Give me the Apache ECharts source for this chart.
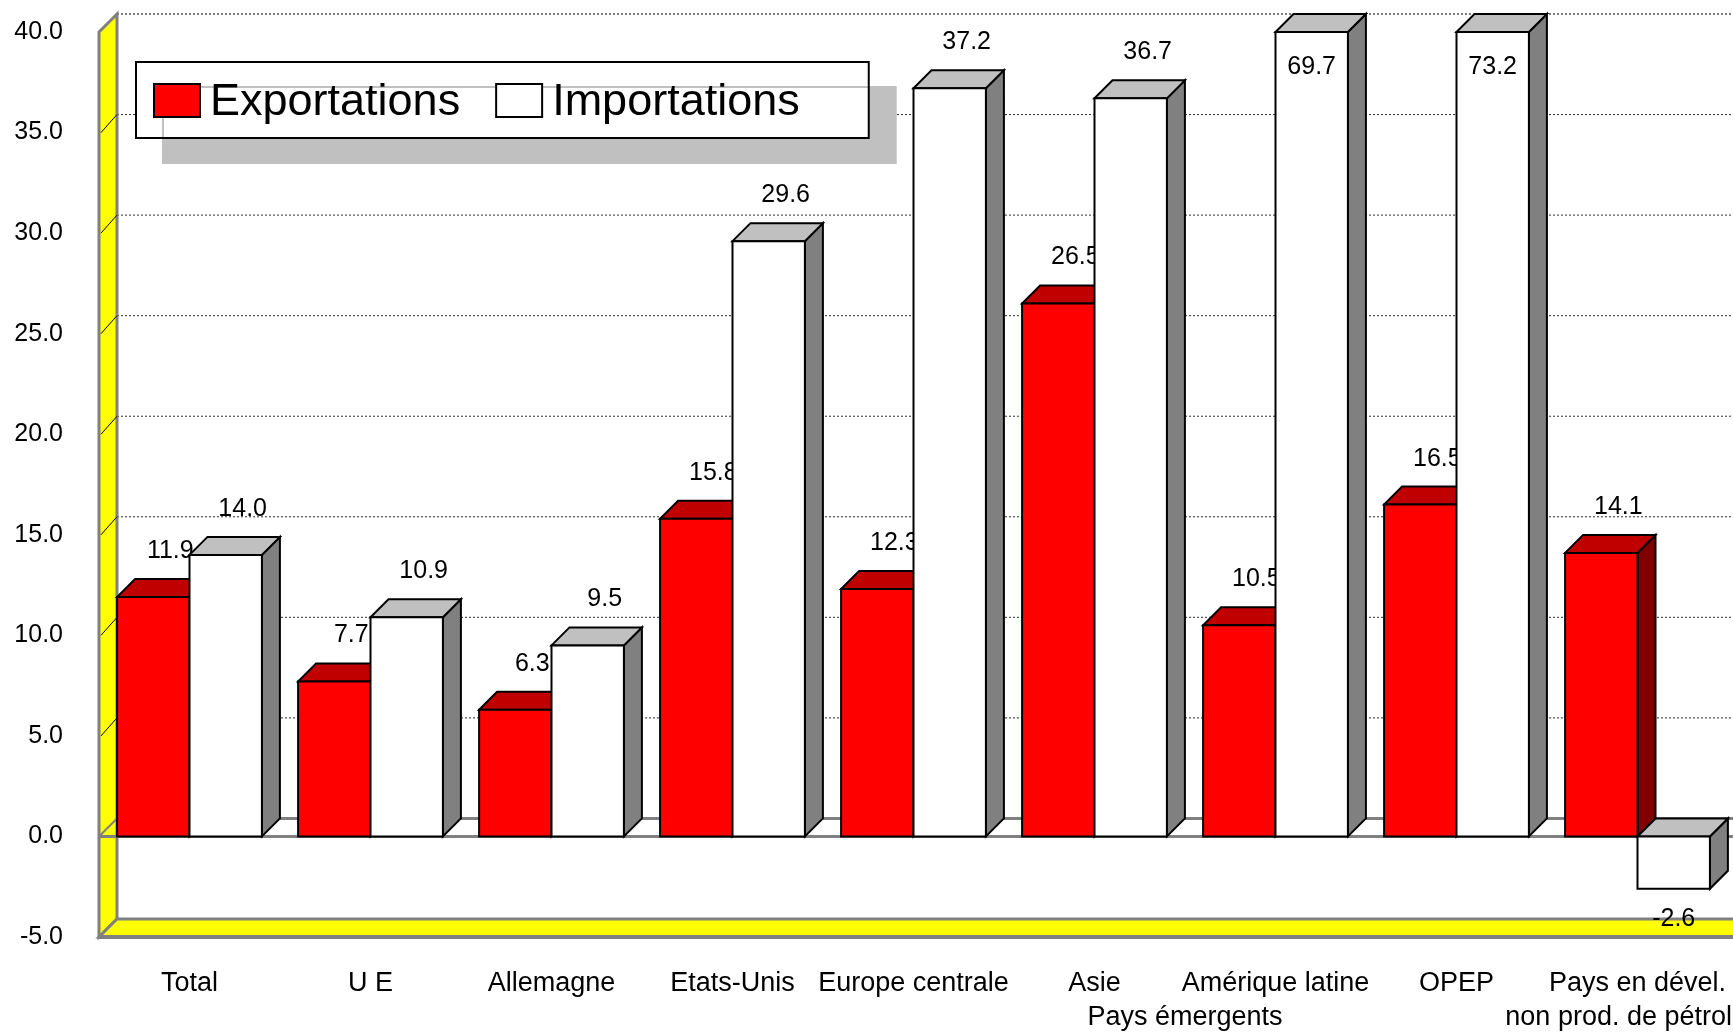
<!DOCTYPE html>
<html>
<head>
<meta charset="utf-8">
<script src="https://cdn.jsdelivr.net/npm/echarts@6/dist/echarts.min.js"></script>
<style>
html,body{margin:0;padding:0;background:#fff;}
#chart{width:1733px;height:1035px;}
</style>
</head>
<body>
<div id="chart"></div>
<script>
// ---------- data ----------
const categories = ['Total', 'U E', 'Allemagne', 'Etats-Unis', 'Europe centrale', 'Asie', 'Amérique latine', 'OPEP', 'Pays en dével.'];
const exportations = [11.9, 7.7, 6.3, 15.8, 12.3, 26.5, 10.5, 16.5, 14.1];
const importations = [14.0, 10.9, 9.5, 29.6, 37.2, 36.7, 69.7, 73.2, -2.6];
const seriesNames = ['Exportations', 'Importations'];
const yMin = -5;
const yMax = 40;
const yStep = 5;
const gridTicks = [5, 10, 15, 20, 25, 30, 35];
const subLabels = [
  { text: 'Pays émergents', from: 4, to: 7, anchor: 'middle' },
  { text: 'non prod. de pétrol', from: 8, to: 8, anchor: 'right' }
];

// ---------- style ----------
const FONT = '"Liberation Sans", Arial, sans-serif';
const D = 18;          // pseudo-3D depth offset
const BAR_RATIO = 0.4; // bar width / category band
const GREY = '#808080';

function barRender(side, colors) {
  return function (params, api) {
    const idx = api.value(0);
    const v = api.value(1);
    const vc = Math.max(yMin, Math.min(yMax, v));
    const band = api.size([1, 0])[0];
    const bw = band * BAR_RATIO;
    const c = api.coord([idx, 0]);
    const x0 = side === 0 ? c[0] - bw : c[0];
    const x1 = x0 + bw;
    const y0 = c[1];
    const yv = api.coord([idx, vc])[1];
    const top = Math.min(y0, yv);
    const bot = Math.max(y0, yv);
    const line = { stroke: '#000', lineWidth: 2, lineJoin: 'miter' };
    let lx, ly;
    const txt = v.toFixed(1);
    if (v > yMax) { lx = (x0 + x1) / 2; ly = top + 35; }
    else if (v < 0) { lx = (x0 + x1) / 2; ly = bot + 30; }
    else { lx = (x0 + x1) / 2 + 17; ly = top - D - 28; }
    return {
      type: 'group',
      children: [
        { type: 'polygon', shape: { points: [[x1, top], [x1 + D, top - D], [x1 + D, bot - D], [x1, bot]] },
          style: Object.assign({ fill: colors.side }, line) },
        { type: 'polygon', shape: { points: [[x0, top], [x1, top], [x1 + D, top - D], [x0 + D, top - D]] },
          style: Object.assign({ fill: colors.top }, line) },
        { type: 'rect', shape: { x: x0, y: top, width: bw, height: bot - top },
          style: Object.assign({ fill: colors.front }, line) },
        { type: 'text', style: { text: txt, x: lx, y: ly, align: 'center', verticalAlign: 'middle',
          fontSize: 25, fontFamily: FONT, fill: '#000' } }
      ]
    };
  };
}

function wallsRender(params, api) {
  const cs = params.coordSys;
  const L = cs.x, R = cs.x + cs.width;
  const yT = api.coord([0, yMax])[1];
  const yB = api.coord([0, yMin])[1];
  const y0 = api.coord([0, 0])[1];
  const children = [];
  // back wall
  children.push({ type: 'rect', shape: { x: L + D, y: yT - D, width: R - L, height: yB - yT },
    style: { fill: '#fff' } });
  // back grid lines
  gridTicks.forEach(t => {
    const y = api.coord([0, t])[1];
    children.push({ type: 'line', shape: { x1: L + D, y1: y - D, x2: R + D, y2: y - D },
      style: { stroke: '#303030', lineWidth: 1, lineDash: [2, 2] } });
  });
  children.push({ type: 'line', shape: { x1: L + D, y1: yT - D, x2: R + D, y2: yT - D },
    style: { stroke: '#505050', lineWidth: 1.5, lineDash: [2, 2] } });
  // left wall
  children.push({ type: 'polygon', shape: { points: [[L, yT], [L + D, yT - D], [L + D, yB - D], [L, yB]] },
    style: { fill: '#ffff00', stroke: GREY, lineWidth: 3 } });
  gridTicks.forEach(t => {
    const y = api.coord([0, t])[1];
    children.push({ type: 'line', shape: { x1: L + 2, y1: y, x2: L + D, y2: y - D },
      style: { stroke: '#000', lineWidth: 1 } });
  });
  // floor
  children.push({ type: 'polygon', shape: { points: [[L, yB], [R + D, yB], [R + D, yB - D], [L + D, yB - D]] },
    style: { fill: '#ffff00', stroke: GREY, lineWidth: 3 } });
  children.push({ type: 'line', shape: { x1: L, y1: yB, x2: R + D, y2: yB },
    style: { stroke: GREY, lineWidth: 4 } });
  // zero plane
  children.push({ type: 'line', shape: { x1: L + D, y1: y0 - D, x2: R + D, y2: y0 - D },
    style: { stroke: GREY, lineWidth: 3 } });
  children.push({ type: 'line', shape: { x1: L, y1: y0, x2: L + D, y2: y0 - D },
    style: { stroke: GREY, lineWidth: 2 } });
  children.push({ type: 'line', shape: { x1: L, y1: y0, x2: R + D, y2: y0 },
    style: { stroke: GREY, lineWidth: 3 } });
  return { type: 'group', children: children };
}

function subLabelRender(params, api) {
  const s = subLabels[params.dataIndex];
  const band = api.size([1, 0])[0];
  const a = api.coord([s.from, yMin]);
  const b = api.coord([s.to, yMin]);
  let x, align;
  if (s.anchor === 'right') { x = b[0] + band / 2 + 4; align = 'right'; }
  else { x = (a[0] + b[0]) / 2; align = 'center'; }
  return { type: 'text', style: { text: s.text, x: x, y: a[1] + 81, align: align, verticalAlign: 'middle',
    fontSize: 27, fontFamily: FONT, fill: '#000' } };
}

const chart = echarts.init(document.getElementById('chart'), null, { renderer: 'canvas' });
chart.setOption({
  animation: false,
  backgroundColor: '#fff',
  textStyle: { fontFamily: FONT },
  grid: { left: 99, right: 5, top: 32, bottom: 98, containLabel: false },
  legend: {
    data: seriesNames,
    left: 136, top: 62,
    orient: 'horizontal',
    icon: 'rect',
    itemWidth: 46, itemHeight: 33, itemGap: 35,
    padding: [14, 69, 13, 17],
    backgroundColor: '#fff',
    borderColor: '#000', borderWidth: 2,
    shadowColor: '#c0c0c0', shadowBlur: 0, shadowOffsetX: 27, shadowOffsetY: 25,
    itemStyle: { borderColor: '#000', borderWidth: 2 },
    formatter: '{t|{name}}',
    textStyle: { fontSize: 45, lineHeight: 45, color: '#000', fontFamily: FONT,
      rich: { t: { fontSize: 45, lineHeight: 45, fontFamily: FONT, color: '#000', padding: [4, 0, 0, 5] } } },
    selectedMode: false
  },
  xAxis: {
    type: 'category',
    data: categories,
    axisLine: { show: false },
    axisTick: { show: false },
    splitLine: { show: false },
    axisLabel: { interval: 0, margin: 33, fontSize: 27, color: '#000', fontFamily: FONT }
  },
  yAxis: {
    type: 'value',
    min: yMin, max: yMax, interval: yStep,
    axisLine: { show: false },
    axisTick: { show: false },
    splitLine: { show: false },
    axisLabel: { margin: 36, fontSize: 25, color: '#000', fontFamily: FONT,
      formatter: v => v.toFixed(1) }
  },
  series: [
    { name: 'walls', type: 'custom', z: 1, silent: true, clip: false,
      data: [[categories[0], 0]], encode: { x: 0, y: 1 }, renderItem: wallsRender },
    { name: seriesNames[0], type: 'custom', z: 2, silent: true, clip: false,
      itemStyle: { color: '#ff0000' },
      data: categories.map((c, i) => [c, exportations[i]]), encode: { x: 0, y: 1 },
      renderItem: barRender(0, { front: '#ff0000', top: '#c00000', side: '#800000' }) },
    { name: seriesNames[1], type: 'custom', z: 3, silent: true, clip: false,
      itemStyle: { color: '#ffffff' },
      data: categories.map((c, i) => [c, importations[i]]), encode: { x: 0, y: 1 },
      renderItem: barRender(1, { front: '#ffffff', top: '#c0c0c0', side: '#808080' }) },
    { name: 'subLabels', type: 'custom', z: 4, silent: true, clip: false,
      data: subLabels.map(s => [categories[s.from], 0]), encode: { x: 0, y: 1 },
      renderItem: subLabelRender }
  ]
});
</script>
</body>
</html>
